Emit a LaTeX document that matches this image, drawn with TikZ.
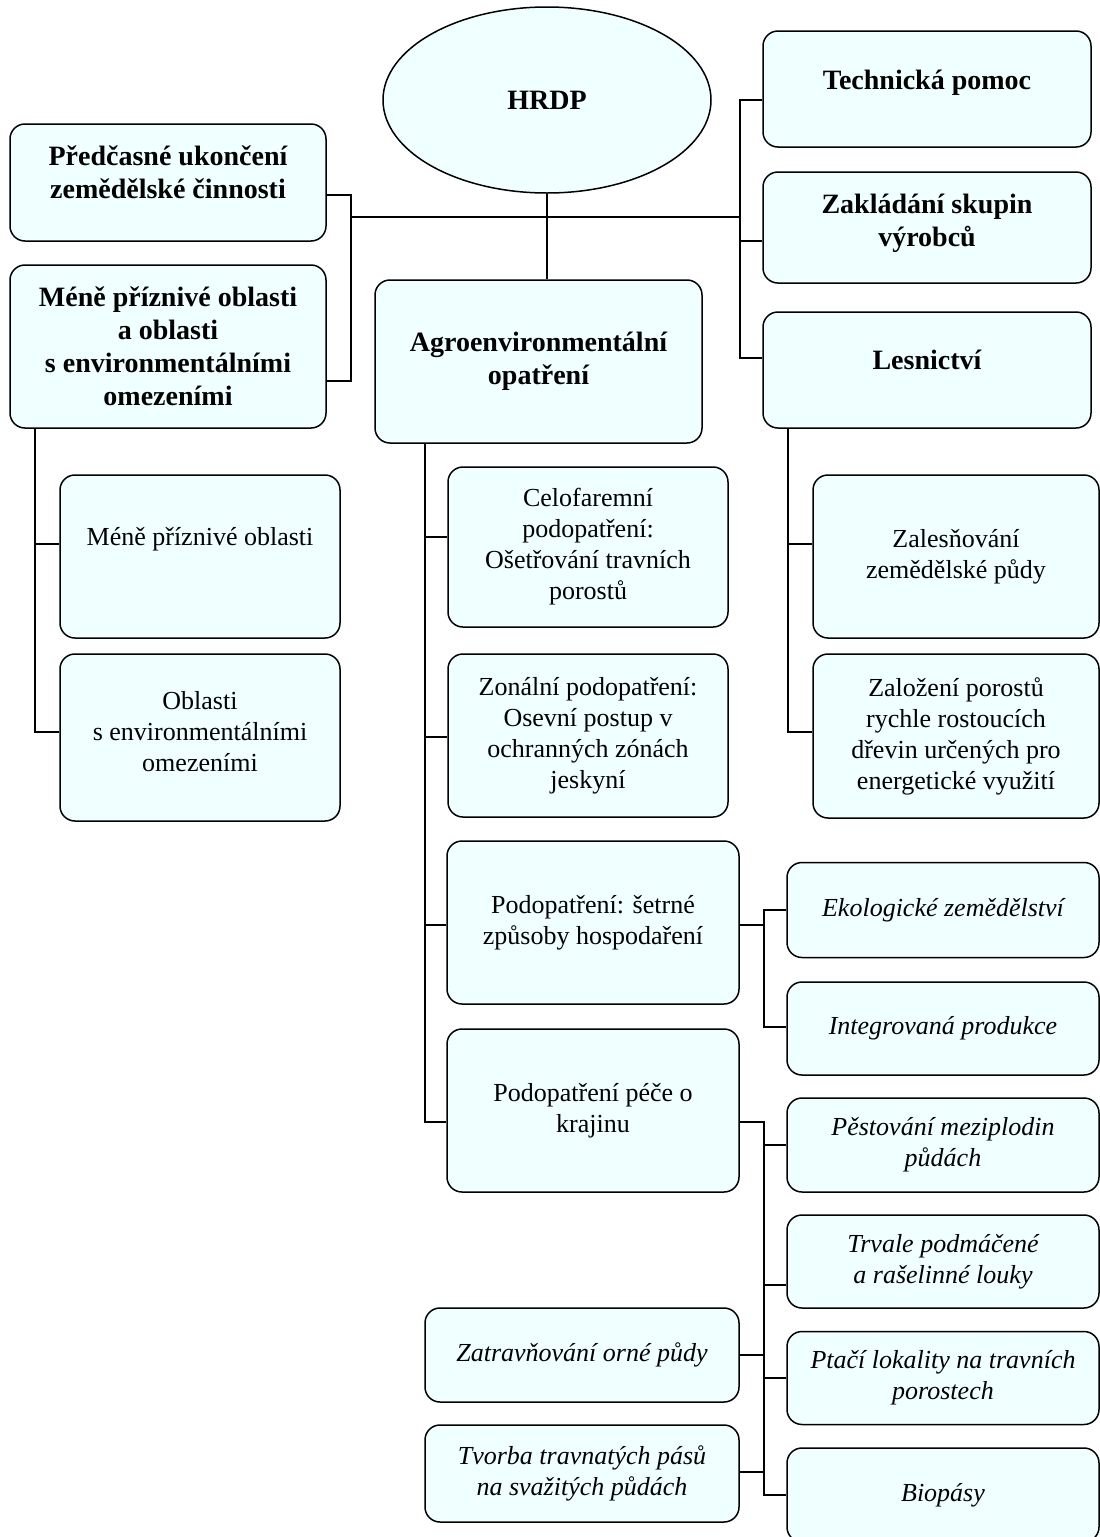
\documentclass[tikz,border=0pt]{standalone}
\usepackage{fontspec}
\setmainfont{Liberation Serif}
\usetikzlibrary{shapes.geometric}
\definecolor{boxfill}{RGB}{240,255,255}
% invisible strut that deepens the last line
\newcommand{\lowstrut}[1]{\rule[-#1]{0pt}{0pt}}

\tikzset{
  box/.style={draw, line width=1.5pt, rounded corners=15pt, fill=boxfill,
    align=center, inner sep=4pt, font=\fontsize{26}{31}\selectfont},
  headbox/.style={box, font=\fontsize{28}{33}\selectfont\bfseries},
  leafbox/.style={box, font=\fontsize{26}{31}\selectfont\itshape},
  dims/.style 2 args={minimum width=#1pt, minimum height=#2pt},
  link/.style={line width=1.5pt}
}

\begin{document}
\begin{tikzpicture}[x=1pt,y=-1pt]
\useasboundingbox (0,0) rectangle (1100,1537);
\clip (0,0) rectangle (1100,1537);

  % Top level
  \node[headbox, ellipse, dims={328}{186}] (hrdp) at (547,100) {HRDP};
  \node[headbox, dims={316}{117}] (pred) at (168,182.5) {Předčasné ukončení\\zemědělské činnosti\lowstrut{20pt}};
  \node[headbox, dims={316}{163}] (mene) at (168,346.5) {Méně příznivé oblasti\\a oblasti\\s environmentálními\\omezeními};
  \node[headbox, dims={327}{163}] (agro) at (538.5,361.5) {Agroenvironmentální\\opatření};
  \node[headbox, dims={328}{116}] (tech) at (927,89) {Technická pomoc\lowstrut{18pt}};
  \node[headbox, dims={328}{111}] (zakl) at (927,227.5) {Zakládání skupin\\výrobců\lowstrut{14pt}};
  \node[headbox, dims={328}{116}] (les) at (927,370) {Lesnictví\lowstrut{20pt}};

  % Left
  \node[box, dims={280}{163}] (mpo) at (200,556.5) {Méně příznivé oblasti\\\strut};
  \node[box, dims={280}{167}] (oeo) at (200,737.5) {Oblasti\\s environmentálními\\omezeními\lowstrut{12pt}};

  % Middle
  \node[box, dims={280}{160}] (celo) at (588,547) {Celofaremní\\podopatření:\\Ošetřování travních\\porostů};
  \node[box, dims={280}{163}] (zon) at (588,735.5) {Zonální podopatření:\\Osevní postup v\\ochranných zónách\\jeskyní};
  \node[box, dims={292}{163}] (setr) at (593,922.5) {Podopatření: šetrné\\způsoby hospodaření};
  \node[box, dims={292}{163}] (pece) at (593,1110.5) {Podopatření péče o\\krajinu};
  \node[leafbox, dims={314}{94}] (zatr) at (582,1355) {Zatravňování orné půdy};
  \node[leafbox, dims={314}{97}] (tvor) at (582,1473.5) {Tvorba travnatých pásů\\na svažitých půdách};

  % Right
  \node[box, dims={286}{163}] (zales) at (956,556.5) {Zalesňování\\zemědělské půdy};
  \node[box, dims={286}{164}] (zalp) at (956,736) {Založení porostů\\rychle rostoucích\\dřevin určených pro\\energetické využití};
  \node[leafbox, dims={312}{95}] (eko) at (943,910) {Ekologické zemědělství};
  \node[leafbox, dims={312}{93}] (integ) at (943,1028.5) {Integrovaná produkce};
  \node[leafbox, dims={312}{94}] (pest) at (943,1145) {Pěstování meziplodin\\půdách};
  \node[leafbox, dims={312}{93}] (trv) at (943,1261.5) {Trvale podmáčené\\a rašelinné louky};
  \node[leafbox, dims={312}{93}] (ptac) at (943,1378) {Ptačí lokality na travních\\porostech};
  \node[leafbox, dims={312}{94}] (bio) at (943,1495) {Biopásy};

  % Connectors
  \coordinate (jl) at (351,217);
  \coordinate (jr) at (740,217);
  \coordinate (js) at (764,925);
  \coordinate (jp) at (764,1122);
  \draw[link] (jl) -- (jr);
  \draw[link] (hrdp.south) -- (hrdp.south |- agro.north);
  \draw[link] (pred.east |- 0,195) -| (jl) |- (mene.east |- 0,381);
  \draw[link] (tech.west |- 0,100) -| (jr) |- (les.west |- 0,358);
  \draw[link] (zakl.west |- 0,241) -- (jr |- 0,241);

  \draw[link] (mene.south -| 35,0) |- (mpo.west |- 0,544);
  \draw[link] (mene.south -| 35,0) |- (oeo.west |- 0,732);

  \draw[link] (agro.south -| 425,0) |- (pece.west |- 0,1122);
  \draw[link] (celo.west |- 0,537) -- (425,537);
  \draw[link] (zon.west |- 0,737) -- (425,737);
  \draw[link] (setr.west |- 0,925) -- (425,925);

  \draw[link] (les.south -| 788,0) |- (zalp.west |- 0,732);
  \draw[link] (zales.west |- 0,544) -- (788,544);

  \draw[link] (setr.east |- 0,925) -- (js);
  \draw[link] (eko.west) -| (js) |- (integ.west |- 0,1027);

  \draw[link] (pece.east |- 0,1122) -- (jp) |- (bio.west);
  \draw[link] (pest.west) -- (pest.west -| jp);
  \draw[link] (trv.west |- 0,1285) -- (jp |- 0,1285);
  \draw[link] (ptac.west) -- (ptac.west -| jp);
  \draw[link] (zatr.east) -- (zatr.east -| jp);
  \draw[link] (tvor.east |- 0,1472) -- (jp |- 0,1472);
\end{tikzpicture}
\end{document}
